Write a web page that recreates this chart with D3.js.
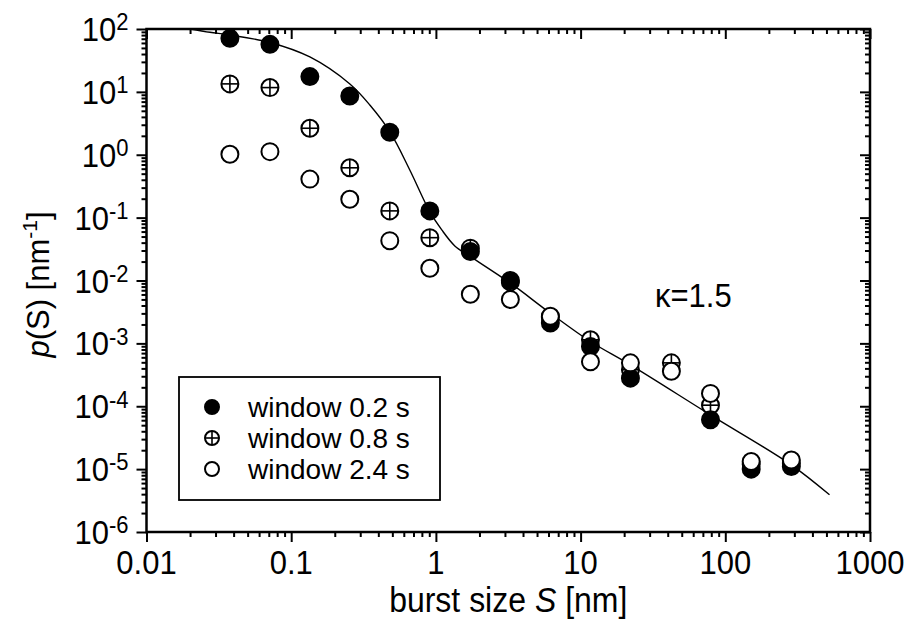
<!DOCTYPE html>
<html>
<head>
<meta charset="utf-8">
<script src="https://cdn.jsdelivr.net/npm/d3@7/dist/d3.min.js"></script>
<style>
  html, body { margin: 0; padding: 0; background: #fff; }
  svg { display: block; }
</style>
</head>
<body>
<svg id="chart" width="906" height="621"></svg>
<script>
// Burst-size distribution p(S) for three averaging windows, with the model curve (kappa = 1.5)
const burstSize = [0.0377, 0.0713, 0.1346, 0.254, 0.48, 0.908, 1.73, 3.27, 6.18, 11.7, 22.1, 42.4, 79, 151, 286];
const pWindow02 = [71, 57, 17.5, 8.6, 2.28, 0.128, 0.0288, 0.0100, 0.0021, 0.00089, 0.00028, null, 0.000061, 0.0000100, 0.0000110];
const pWindow08 = [13.4, 11.7, 2.64, 0.62, 0.128, 0.048, 0.0327, 0.0095, 0.0026, 0.00114, 0.00038, 0.00049, 0.000104, 0.000012, 0.0000125];
const pWindow24 = [1.02, 1.12, 0.41, 0.196, 0.043, 0.0157, 0.00605, 0.0050, 0.0027, 0.00051, 0.00049, 0.00036, 0.00016, 0.0000132, 0.0000140];

// Model curve samples
const fitSize = [0.020, 0.02745, 0.0377, 0.0713, 0.1346, 0.2544, 0.3495, 0.4803, 0.660, 0.9075, 1.098, 1.351, 1.734, 3.275, 6.185, 11.69, 22.08, 78.8, 285.6, 525];
const fitP = [100, 88.6, 80.3, 61.0, 35.9, 13.35, 6.19, 2.33, 0.573, 0.1246, 0.0637, 0.0355, 0.0240, 0.00906, 0.00302, 0.00107, 0.000455, 0.0000730, 0.0000117, 0.0000039];

// Axis ticks and labels
const xMajorTicks = [0.01, 0.1, 1, 10, 100, 1000];
const xTickLabels = ["0.01", "0.1", "1", "10", "100", "1000"];
const yExponents = [2, 1, 0, -1, -2, -3, -4, -5, -6];
const legendLabels = ["window 0.2 s", "window 0.8 s", "window 2.4 s"];
const annotation = "\u03BA=1.5";

const svg = d3.select("#chart");
const plot = { left: 146.5, right: 870, top: 29, bottom: 532 };
const FONT = "Arial, 'Liberation Sans', Helvetica, sans-serif";
const SY = 1.07; // lettering is slightly tall

const x = d3.scaleLog().domain([0.01, 1000]).range([plot.left, plot.right]);
const y = d3.scaleLog().domain([1e-6, 1e2]).range([plot.bottom, plot.top]);

function minorTicks(lo, hi) {
  const out = [];
  for (let e = lo; e < hi; e++) for (let k = 2; k < 10; k++) out.push(+(k * Math.pow(10, e)).toPrecision(3));
  return out;
}
const xMinorTicks = minorTicks(-2, 3);
const yMajorTicks = yExponents.map(e => Math.pow(10, e));
const yMinorTicks = minorTicks(-6, 2);

function tickAxis(gen, transform, values, size) {
  svg.append("g")
    .attr("transform", transform)
    .call(gen.tickValues(values).tickSize(size).tickFormat("").tickSizeOuter(0))
    .call(g => g.select(".domain").remove())
    .call(g => g.selectAll("line").attr("stroke", "#000").attr("stroke-width", 2));
}

// bottom / left ticks point outward, top / right ticks point inward
tickAxis(d3.axisBottom(x), `translate(0,${plot.bottom})`, xMajorTicks, 10);
tickAxis(d3.axisBottom(x), `translate(0,${plot.bottom})`, xMinorTicks, 5);
tickAxis(d3.axisBottom(x), `translate(0,${plot.top})`, xMajorTicks, 10);
tickAxis(d3.axisBottom(x), `translate(0,${plot.top})`, xMinorTicks, 5);
tickAxis(d3.axisLeft(y), `translate(${plot.left},0)`, yMajorTicks, 10);
tickAxis(d3.axisLeft(y), `translate(${plot.left},0)`, yMinorTicks, 5);
tickAxis(d3.axisLeft(y), `translate(${plot.right},0)`, yMajorTicks, 10);
tickAxis(d3.axisLeft(y), `translate(${plot.right},0)`, yMinorTicks, 5);

// frame
svg.append("rect")
  .attr("x", plot.left).attr("y", plot.top)
  .attr("width", plot.right - plot.left).attr("height", plot.bottom - plot.top)
  .attr("fill", "none").attr("stroke", "#000").attr("stroke-width", 2.5);

function tallText(parent, tx, ty, anchor, size, sy) {
  const tr = `translate(${tx},${ty}) scale(1,${sy == null ? SY : sy})`;
  return parent.append("g").attr("transform", tr)
    .append("text")
    .attr("text-anchor", anchor)
    .attr("font-size", size)
    .attr("font-family", FONT)
    .attr("fill", "#000");
}

// y tick labels: 10^n
yExponents.forEach(e => {
  const t = tallText(svg, plot.left - 18, y(Math.pow(10, e)) + 12, "end", 31);
  t.append("tspan").text("10");
  t.append("tspan").attr("font-size", 22).attr("dy", -10).text(e < 0 ? "-" + (-e) : String(e));
});

// x tick labels
xMajorTicks.forEach((v, i) => {
  tallText(svg, x(v), 574, "middle", 31).text(xTickLabels[i]);
});

// axis titles
const xt = tallText(svg, (plot.left + plot.right) / 2, 612, "middle", 32);
xt.append("tspan").text("burst size ");
xt.append("tspan").attr("font-style", "italic").text("S");
xt.append("tspan").text(" [nm]");

const ytitle = svg.append("g").attr("transform", `translate(49,${(plot.top + plot.bottom) / 2 + 4}) rotate(-90)`)
  .append("text").attr("text-anchor", "middle").attr("font-size", 31).attr("font-family", FONT);
ytitle.append("tspan").attr("font-style", "italic").text("p");
ytitle.append("tspan").text("(S) [nm");
ytitle.append("tspan").attr("font-size", 21).attr("dy", -12).text("-1");
ytitle.append("tspan").attr("dy", 12).text("]");

// annotation
tallText(svg, 655, 307, "start", 31).text(annotation);

// clip region for the curve
svg.append("clipPath").attr("id", "plot-area")
  .append("rect")
  .attr("x", plot.left).attr("y", plot.top)
  .attr("width", plot.right - plot.left).attr("height", plot.bottom - plot.top);

const fitData = fitSize.map((s, i) => [s, fitP[i]]);
svg.append("path")
  .datum(fitData)
  .attr("clip-path", "url(#plot-area)")
  .attr("fill", "none")
  .attr("stroke", "#000")
  .attr("stroke-width", 1.4)
  .attr("d", d3.line().x(d => x(d[0])).y(d => y(d[1])).curve(d3.curveCatmullRom.alpha(0.5)));

// marker drawing
function drawMarker(g, cx, cy, kind, r) {
  if (kind === "filled") {
    g.append("circle").attr("cx", cx).attr("cy", cy).attr("r", r)
      .attr("fill", "#000").attr("stroke", "#000").attr("stroke-width", 2);
  } else if (kind === "plus") {
    g.append("circle").attr("cx", cx).attr("cy", cy).attr("r", r)
      .attr("fill", "#fff").attr("stroke", "#000").attr("stroke-width", 2);
    g.append("line").attr("x1", cx - r).attr("x2", cx + r).attr("y1", cy).attr("y2", cy)
      .attr("stroke", "#000").attr("stroke-width", 1.6);
    g.append("line").attr("x1", cx).attr("x2", cx).attr("y1", cy - r).attr("y2", cy + r)
      .attr("stroke", "#000").attr("stroke-width", 1.6);
  } else {
    g.append("circle").attr("cx", cx).attr("cy", cy).attr("r", r)
      .attr("fill", "#fff").attr("stroke", "#000").attr("stroke-width", 2);
  }
}

// stacking: 0.8 s below, 0.2 s in the middle, 2.4 s on top
const series = [
  { values: pWindow08, kind: "plus" },
  { values: pWindow02, kind: "filled" },
  { values: pWindow24, kind: "open" }
];
series.forEach(s => {
  const g = svg.append("g");
  burstSize.forEach((b, i) => {
    const v = s.values[i];
    if (v == null) return;
    drawMarker(g, x(b), y(v), s.kind, 8.5);
  });
});

// legend
const legend = svg.append("g");
legend.append("rect")
  .attr("x", 179).attr("y", 377).attr("width", 261).attr("height", 123)
  .attr("fill", "#fff").attr("stroke", "#000").attr("stroke-width", 1.8);
const legendKinds = ["filled", "plus", "open"];
const rowY = [407, 438, 469];
legendLabels.forEach((label, i) => {
  drawMarker(legend, 212, rowY[i], legendKinds[i], 7);
  tallText(legend, 248, rowY[i] + 10, "start", 28, 1).text(label);
});
</script>
</body>
</html>
